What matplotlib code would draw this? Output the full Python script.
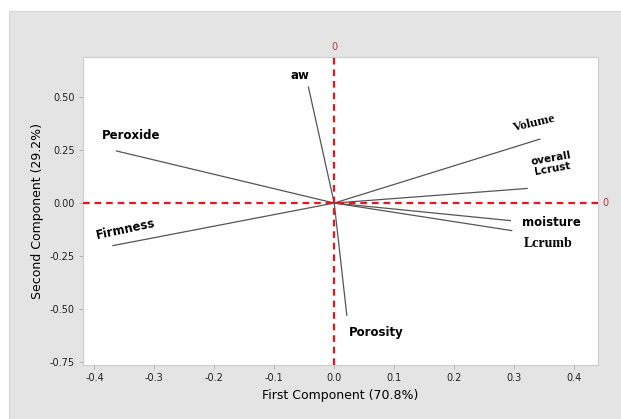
import matplotlib
matplotlib.use("Agg")
import matplotlib.pyplot as plt
from matplotlib.patches import Rectangle

# loadings on the first two principal components
variables = ["aw", "Peroxide", "Firmness", "Volume", "overall Lcrust",
             "moisture", "Lcrumb", "Porosity"]
pc1 = [-0.043, -0.363, -0.369, 0.343, 0.322, 0.294, 0.296, 0.021]
pc2 = [0.548, 0.246, -0.201, 0.302, 0.069, -0.083, -0.130, -0.530]

# label placement: (x, y, rotation, family, size)
label_pos = {
    "aw": (-0.057, 0.604, 0, "sans", 8.5),
    "Peroxide": (-0.339, 0.318, 0, "sans", 8.5),
    "Firmness": (-0.348, -0.125, 12, "sans", 8.5),
    "Volume": (0.334, 0.378, 13, "serif", 9.5),
    "overall Lcrust": (0.363, 0.185, 10, "sans", 7.5),
    "moisture": (0.363, -0.092, 0, "sans", 8.5),
    "Lcrumb": (0.357, -0.192, 0, "serif", 10),
    "Porosity": (0.070, -0.610, 0, "sans", 8.5),
}

gray_bg = "#e4e4e4"
red = "#e8161b"

fig = plt.figure(figsize=(6.21, 4.19), dpi=100, facecolor="white")
fig.patches.append(Rectangle((9 / 621, 0), 1, 1 - 11 / 419, transform=fig.transFigure,
                             facecolor=gray_bg, edgecolor="#d6d6d6", lw=0.8, zorder=-10))

ax = fig.add_axes([83 / 621, 54 / 419, 515 / 621, 308 / 419])
ax.set_zorder(5)
ax.set_facecolor("white")
ax.set_xlim(-0.419, 0.44)
ax.set_ylim(-0.765, 0.69)

for name, x, y in zip(variables, pc1, pc2):
    ax.plot([0, x], [0, y], color="#555555", lw=0.9, zorder=2)
    lx, ly, rot, fam, size = label_pos[name]
    text = name.replace(" ", "\n")
    family = "Liberation Serif" if fam == "serif" else "DejaVu Sans"
    ax.text(lx, ly, text, ha="center", va="center", rotation=rot,
            fontsize=size, fontweight="bold", family=family, linespacing=1.05)

ax.axhline(0, color=red, lw=1.6, ls=(0, (3, 2.2)), zorder=3)
ax.axvline(0, color=red, lw=1.6, ls=(0, (3, 2.2)), zorder=3)
ax.text(0, 0.735, "0", color="#b8373a", fontsize=7, ha="center", va="center",
        clip_on=False)
ax.text(0.452, 0, "0", color="#b8373a", fontsize=7, ha="center", va="center",
        clip_on=False)

ax.set_xticks([-0.4, -0.3, -0.2, -0.1, 0.0, 0.1, 0.2, 0.3, 0.4])
ax.set_xticklabels(["-0.4", "-0.3", "-0.2", "-0.1", "0.0", "0.1", "0.2", "0.3", "0.4"])
ax.set_yticks([-0.75, -0.50, -0.25, 0.0, 0.25, 0.50])
ax.set_yticklabels(["-0.75", "-0.50", "-0.25", "0.00", "0.25", "0.50"])
ax.tick_params(labelsize=7, length=3, width=0.6, color="#aaaaaa", pad=3,
               labelcolor="#222222")
for s in ax.spines.values():
    s.set_color("#cccccc")
    s.set_linewidth(0.8)

ax.set_xlabel("First Component (70.8%)", fontsize=9, labelpad=4)
ax.set_ylabel("Second Component (29.2%)", fontsize=9, labelpad=4)

fig.savefig("out.png", dpi=100, facecolor=fig.get_facecolor())
